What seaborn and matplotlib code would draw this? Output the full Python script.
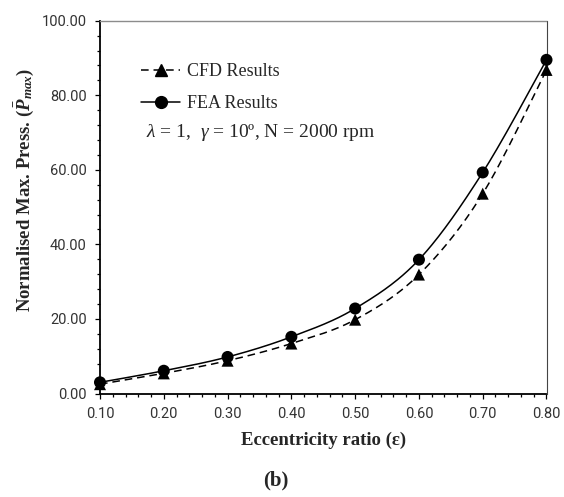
import numpy as np
import pandas as pd
import matplotlib
matplotlib.use("Agg")
import matplotlib.pyplot as plt
import seaborn as sns
from matplotlib.lines import Line2D
from matplotlib.ticker import MultipleLocator, FormatStrFormatter

# Normalised maximum pressure against eccentricity ratio
eccentricity = [0.10, 0.20, 0.30, 0.40, 0.50, 0.60, 0.70, 0.80]
cfd_pmax = [2.5, 5.4, 8.8, 13.4, 19.8, 31.9, 53.6, 86.8]
fea_pmax = [3.0, 6.1, 9.8, 15.2, 22.8, 35.9, 59.3, 89.5]
series_names = ["CFD Results", "FEA Results"]
x_ticks = [0.10, 0.20, 0.30, 0.40, 0.50, 0.60, 0.70, 0.80]
y_ticks = [0, 20, 40, 60, 80, 100]

sns.set_theme(style="ticks")
plt.rcParams["font.family"] = ["Liberation Serif", "DejaVu Serif"]
plt.rcParams["mathtext.fontset"] = "custom"
plt.rcParams["mathtext.rm"] = "Liberation Serif"
plt.rcParams["mathtext.it"] = "Liberation Serif:italic"
plt.rcParams["mathtext.bf"] = "Liberation Serif:italic:bold"


def smooth_path(x, y, n=40):
    """Bezier smoothing through the points (spreadsheet-style smoothed line)."""
    pts = np.column_stack([x, y]).astype(float)
    ext = np.vstack([pts[0], pts, pts[-1]])
    t = np.linspace(0, 1, n)[:, None]
    segs = []
    for i in range(len(pts) - 1):
        p0, p3 = ext[i + 1], ext[i + 2]
        c1 = p0 + (ext[i + 2] - ext[i]) / 6.0
        c2 = p3 - (ext[i + 3] - ext[i + 1]) / 6.0
        seg = (1 - t) ** 3 * p0 + 3 * (1 - t) ** 2 * t * c1 + 3 * (1 - t) * t ** 2 * c2 + t ** 3 * p3
        segs.append(seg if i == 0 else seg[1:])
    return np.vstack(segs)


points = pd.concat([
    pd.DataFrame({"eps": eccentricity, "p": cfd_pmax, "series": series_names[0]}),
    pd.DataFrame({"eps": eccentricity, "p": fea_pmax, "series": series_names[1]}),
], ignore_index=True)

curves = []
for name, grp in points.groupby("series", sort=False):
    path = smooth_path(grp["eps"].values, grp["p"].values)
    curves.append(pd.DataFrame({"eps": path[:, 0], "p": path[:, 1], "series": name}))
curves = pd.concat(curves, ignore_index=True)

palette = {series_names[0]: "black", series_names[1]: "black"}
dash_map = {series_names[0]: (5.0, 3.2), series_names[1]: ""}
marker_map = {series_names[0]: "^", series_names[1]: "o"}

fig = plt.figure(figsize=(5.64, 4.97), dpi=100)
ax = fig.add_axes([100 / 564, 103.5 / 497, 446.5 / 564, 372.8 / 497])

sns.lineplot(data=curves, x="eps", y="p", hue="series", style="series",
             palette=palette, dashes=dash_map, sort=False, estimator=None,
             linewidth=1.1, legend=False, ax=ax)
sns.scatterplot(data=points, x="eps", y="p", hue="series", style="series",
                palette=palette, markers=marker_map, s=75, edgecolor="black",
                linewidth=0, legend=False, ax=ax, zorder=3, clip_on=False)

ax.set_xlim(0.10, 0.80)
ax.set_ylim(0, 100)
ax.set_xticks(x_ticks)
ax.set_yticks(y_ticks)
ax.xaxis.set_minor_locator(MultipleLocator(0.02))
ax.yaxis.set_minor_locator(MultipleLocator(4))
ax.xaxis.set_major_formatter(FormatStrFormatter("%.2f"))
ax.yaxis.set_major_formatter(FormatStrFormatter("%.2f"))

ax.tick_params(which="major", direction="out", length=3.5, width=0.9, color="black",
               labelsize=10.5, labelcolor="#333333", pad=6)
ax.tick_params(which="minor", direction="out", length=2.5, width=0.9, color="black")
for lab in ax.get_xticklabels() + ax.get_yticklabels():
    lab.set_family("Roboto")

for side in ("left", "bottom"):
    ax.spines[side].set_color("black")
    ax.spines[side].set_linewidth(1.3)
ax.spines["top"].set_color("#8c8c8c")
ax.spines["top"].set_linewidth(1.0)
ax.spines["right"].set_color("#444444")
ax.spines["right"].set_linewidth(0.8)

ax.set_xlabel("Eccentricity ratio (ε)", fontsize=13.5, fontweight="bold")
ax.set_ylabel(r"Normalised Max. Press. ($\mathbf{\bar{P}}_{\mathbf{max}}$)", fontsize=13.5,
              fontweight="bold")
ax.xaxis.label.set_va("center")
ax.yaxis.label.set_va("center")
ax.xaxis.set_label_coords(0.5, (393.5 - 440) / 372.8)
ax.yaxis.set_label_coords((24 - 100) / 446.5, (393.5 - 189.5) / 372.8)

handles = [
    Line2D([], [], color="black", lw=1.1, dashes=(5.0, 3.2), marker="^", markersize=8),
    Line2D([], [], color="black", lw=1.1, marker="o", markersize=8.5),
]
ax.legend(handles, series_names, loc="upper left", bbox_to_anchor=(0.075, 0.905),
          frameon=False, fontsize=13, handlelength=2.2, handletextpad=0.35,
          labelspacing=0.83, borderaxespad=0)

ax.text(0.103, 0.699, r"$\lambda$ = 1,  $\gamma$ = 10º, N = 2000 rpm",
        transform=ax.transAxes, fontsize=14, ha="left", va="center")

fig.text(276 / 564, 1 - 480 / 497, "(b)", fontsize=15, fontweight="bold",
         ha="center", va="center")

fig.savefig("out.png", dpi=100)
